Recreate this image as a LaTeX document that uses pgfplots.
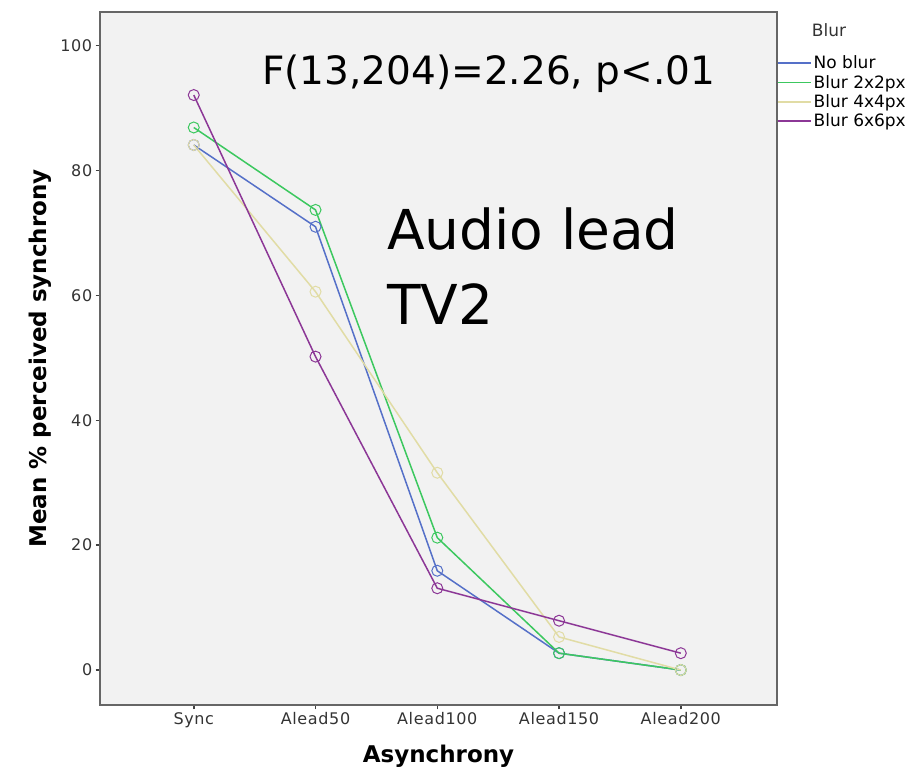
\documentclass[border=0pt]{standalone}
\usepackage{pgfplots}
\pgfplotsset{compat=1.18}
\usepackage{fontspec}
\setmainfont{DejaVu Sans}
\newfontfamily\tickfont[LetterSpace=4]{DejaVu Sans}
\definecolor{noblur}{RGB}{85,112,200}
\definecolor{blurtwo}{RGB}{60,200,95}
\definecolor{blurfour}{RGB}{225,220,165}
\definecolor{blursix}{RGB}{140,55,150}
\definecolor{plotbg}{RGB}{242,242,242}

\begin{document}
\begin{tikzpicture}
\useasboundingbox (0pt,0pt) rectangle (917pt,781pt);
\begin{axis}[
    at={(100pt,76pt)}, anchor=south west,
    scale only axis, width=677pt, height=693pt,
    xmin=-0.77, xmax=4.79,
    ymin=-5.6, ymax=105.4,
    xtick={0,1,2,3,4},
    xticklabels={Sync,Alead50,Alead100,Alead150,Alead200},
    ytick={0,20,40,60,80,100},
    yticklabels={0,20,40,60,80,100},
    xtick pos=bottom, ytick pos=left,
    tick align=outside,
    tick style={black!75, line width=1.5pt},
    axis line style={black!60, line width=1.2pt},
    axis background/.style={fill=plotbg},
    ticklabel style={font=\tickfont\fontsize{16}{18}\selectfont, text=black!80},
    xlabel={\bfseries Asynchrony},
    ylabel={\bfseries Mean \% perceived synchrony},
    label style={font=\fontsize{23}{27}\selectfont},
    xlabel style={yshift=-10pt},
    ylabel style={yshift=2pt},
    legend style={at={(axis description cs:1,0.94)}, anchor=north west,
        draw=none, fill=none, font=\fontsize{17}{18}\selectfont,
        row sep=1pt, inner xsep=0pt, inner ysep=0pt},
    legend cell align=left,
    legend image code/.code={\draw[#1, mark=none] (0pt,0pt) -- (33pt,0pt);},
    every axis plot/.append style={line width=1.5pt, mark=o, mark size=5.5pt,
        mark options={solid, line width=1pt}},
]
\addplot[noblur] coordinates {(0,84.1) (1,71.0) (2,15.9) (3,2.7) (4,0.0)};
\addlegendentry{No blur}
\addplot[blurtwo] coordinates {(0,86.9) (1,73.7) (2,21.2) (3,2.7) (4,0.0)};
\addlegendentry{Blur 2x2px}
\addplot[blurfour] coordinates {(0,84.1) (1,60.6) (2,31.6) (3,5.3) (4,0.0)};
\addlegendentry{Blur 4x4px}
\addplot[blursix] coordinates {(0,92.1) (1,50.2) (2,13.1) (3,7.9) (4,2.7)};
\addlegendentry{Blur 6x6px}
\end{axis}
\node[anchor=center, font=\fontsize{17}{19}\selectfont, text=black!80] at (829pt,751pt) {Blur};
\node[anchor=base west, inner sep=0pt, font=\fontsize{39}{44}\selectfont] at (262pt,696pt) {F(13,204)=2.26, p<.01};
\node[anchor=base west, inner sep=0pt, font=\fontsize{55}{62}\selectfont] at (387pt,531pt) {Audio lead};
\node[anchor=base west, inner sep=0pt, font=\fontsize{55}{62}\selectfont] at (387pt,456pt) {TV2};
\end{tikzpicture}
\end{document}
